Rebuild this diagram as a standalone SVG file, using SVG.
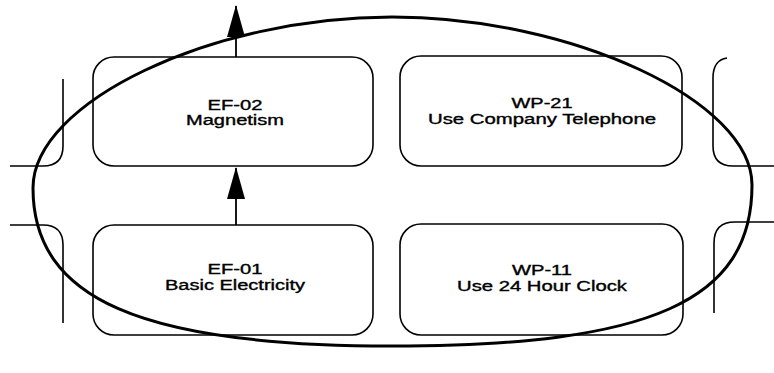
<svg xmlns="http://www.w3.org/2000/svg" width="774" height="373" viewBox="0 0 774 373">
  <style>
    .box { fill: none; stroke: #000; stroke-width: 1.6; }
    .part { fill: none; stroke: #000; stroke-width: 1.6; }
    .lbl { font-family: "Liberation Sans", Arial, sans-serif; font-size: 14px; fill: #000; stroke: #000; stroke-width: 0.35; text-anchor: middle; }
    .conn { stroke: #000; stroke-width: 1.8; fill: none; }
    .oval { fill: none; stroke: #000; stroke-width: 3; }
  </style>
  <defs>
    <marker id="arrow" markerUnits="userSpaceOnUse" viewBox="0 0 32 20" refX="31" refY="10" markerWidth="32" markerHeight="20" orient="auto">
      <path d="M0,1 L32,10 L0,19 Z" fill="#000"/>
    </marker>
  </defs>
  <rect width="774" height="373" fill="#fff"/>

  <g id="partial-shapes">
    <path class="part" d="M63,79 V146 Q63,166 43,166 H10"/>
    <path class="part" d="M10,225 H43 Q63,225 63,245 V323"/>
    <path class="part" d="M727,58 Q713,60 713,78 V146 Q713,166 733,166 H774"/>
    <path class="part" d="M774,222 H735 Q714,222 714,243 V313"/>
  </g>

  <g id="node-ef02">
    <rect class="box" x="93" y="57" width="280" height="109" rx="21" ry="21"/>
    <text class="lbl" x="235" y="110" textLength="55" lengthAdjust="spacingAndGlyphs">EF-02</text>
    <text class="lbl" x="235" y="125" textLength="98" lengthAdjust="spacingAndGlyphs">Magnetism</text>
  </g>

  <g id="node-wp21">
    <rect class="box" x="400" y="56" width="282" height="110" rx="21" ry="21"/>
    <text class="lbl" x="542" y="108" textLength="61" lengthAdjust="spacingAndGlyphs">WP-21</text>
    <text class="lbl" x="542" y="124" textLength="228" lengthAdjust="spacingAndGlyphs">Use Company Telephone</text>
  </g>

  <g id="node-ef01">
    <rect class="box" x="93" y="225" width="280" height="110" rx="21" ry="21"/>
    <text class="lbl" x="235" y="274" textLength="55" lengthAdjust="spacingAndGlyphs">EF-01</text>
    <text class="lbl" x="235" y="290" textLength="140" lengthAdjust="spacingAndGlyphs">Basic Electricity</text>
  </g>

  <g id="node-wp11">
    <rect class="box" x="400" y="224" width="283" height="111" rx="21" ry="21"/>
    <text class="lbl" x="542" y="275" textLength="60" lengthAdjust="spacingAndGlyphs">WP-11</text>
    <text class="lbl" x="542" y="291" textLength="170" lengthAdjust="spacingAndGlyphs">Use 24 Hour Clock</text>
  </g>

  <g id="connectors">
    <line class="conn" x1="236" y1="57" x2="236" y2="6" marker-end="url(#arrow)"/>
    <line class="conn" x1="236" y1="225" x2="236" y2="168" marker-end="url(#arrow)"/>
  </g>

  <g id="grouping-oval">
    <path class="oval" d="M33,188 C33,102 212,17 392,17 C572,17 752,101 752,185 C752,301 651,346 392,346 C141,346 33,299 33,188 Z"/>
  </g>
</svg>
